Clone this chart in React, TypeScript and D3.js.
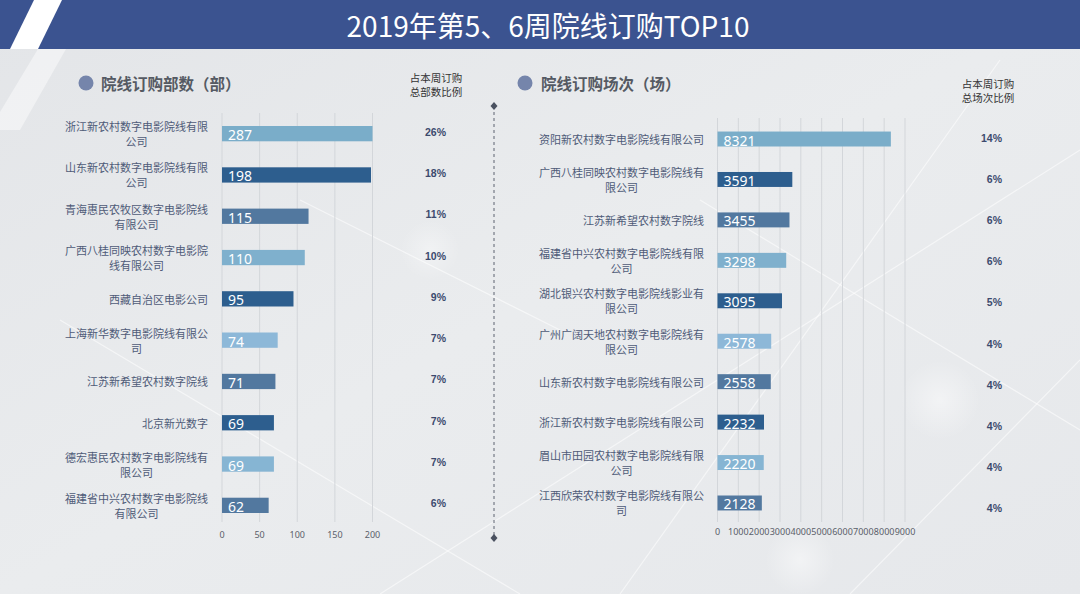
import React from "react";
import * as d3 from "d3";

const leftCategories = [
  "浙江新农村数字电影院线有限\n公司",
  "山东新农村数字电影院线有限\n公司",
  "青海惠民农牧区数字电影院线\n有限公司",
  "广西八桂同映农村数字电影院\n线有限公司",
  "西藏自治区电影公司",
  "上海新华数字电影院线有限公\n司",
  "江苏新希望农村数字院线",
  "北京新光数字",
  "德宏惠民农村数字电影院线有\n限公司",
  "福建省中兴农村数字电影院线\n有限公司",
];
const leftValues = [287, 198, 115, 110, 95, 74, 71, 69, 69, 62];
const leftShares = ["26%", "18%", "11%", "10%", "9%", "7%", "7%", "7%", "7%", "6%"];

const rightCategories = [
  "资阳新农村数字电影院线有限公司",
  "广西八桂同映农村数字电影院线有\n限公司",
  "江苏新希望农村数字院线",
  "福建省中兴农村数字电影院线有限\n公司",
  "湖北银兴农村数字电影院线影业有\n限公司",
  "广州广阔天地农村数字电影院线有\n限公司",
  "山东新农村数字电影院线有限公司",
  "浙江新农村数字电影院线有限公司",
  "眉山市田园农村数字电影院线有限\n公司",
  "江西欣荣农村数字电影院线有限公\n司",
];
const rightValues = [8321, 3591, 3455, 3298, 3095, 2578, 2558, 2232, 2220, 2128];
const rightShares = ["14%", "6%", "6%", "6%", "5%", "4%", "4%", "4%", "4%", "4%"];

const leftTicks = [0, 50, 100, 150, 200];
const rightTicks = [0, 1000, 2000, 3000, 4000, 5000, 6000, 7000, 8000, 9000];

const barColors = [
  "#7aadc9", "#2d5e8e", "#52789f", "#7fb0cd", "#2d5e8e",
  "#8db8d8", "#52789f", "#2d5e8e", "#86b5d3", "#52789f",
];

const W = 1080;
const H = 594;
const CJK = "'Noto Sans CJK SC', 'Noto Sans', sans-serif";
const NUM = "'Noto Sans', 'DejaVu Sans', sans-serif";

type PanelProps = {
  cats: string[];
  values: number[];
  shares: string[];
  xDomain: [number, number];
  xRange: [number, number];
  yRange: [number, number];
  pctRange: [number, number];
  labelRight: number;
  pctX: number;
  ticks: number[];
  tickY: number;
  gridTop: number;
  gridBottom: number;
};

function Panel(p: PanelProps) {
  const x = d3.scaleLinear().domain(p.xDomain).range(p.xRange).clamp(true);
  const y = d3
    .scaleBand<string>()
    .domain(p.cats)
    .range(p.yRange)
    .paddingInner(0.63)
    .paddingOuter(0.315);
  const py = d3.scalePoint<string>().domain(p.cats).range(p.pctRange);
  const fs = 11;
  return (
    <g>
      {p.ticks.map((t) => (
        <line
          key={"g" + t}
          x1={x(t)}
          x2={x(t)}
          y1={p.gridTop}
          y2={p.gridBottom}
          stroke="#d3d6da"
          strokeWidth={1}
        />
      ))}
      {p.ticks.map((t) => (
        <text
          key={"t" + t}
          x={x(t)}
          y={p.tickY}
          textAnchor="middle"
          fontFamily={NUM}
          fontSize={9}
          fill="#5a5f6a"
        >
          {t}
        </text>
      ))}
      {p.cats.map((c, i) => {
        const yy = y(c)!;
        const bw = y.bandwidth();
        const cy = yy + bw / 2;
        const lines = c.split("\n");
        const maxLen = d3.max(lines, (l) => l.length)!;
        const cx = p.labelRight - (maxLen * fs) / 2;
        const offs = lines.length === 1 ? [0] : [-7.5, 7.5];
        return (
          <g key={c + i}>
            <rect
              x={x(0)}
              y={yy}
              width={x(p.values[i]) - x(0)}
              height={bw}
              fill={barColors[i % barColors.length]}
            />
            <text
              x={x(0) + 6}
              y={cy + 1}
              dominantBaseline="central"
              fontFamily={NUM}
              fontSize={14}
              fill="#ffffff"
            >
              {p.values[i]}
            </text>
            {lines.map((l, j) => (
              <text
                key={j}
                x={cx}
                y={cy + offs[j]}
                textAnchor="middle"
                dominantBaseline="central"
                fontFamily={CJK}
                fontSize={fs}
                fill="#4f5b78"
              >
                {l}
              </text>
            ))}
            <text
              x={p.pctX}
              y={py(c)!}
              textAnchor="end"
              dominantBaseline="central"
              fontFamily="'Liberation Sans', Arial, sans-serif"
              fontWeight="bold"
              fontSize={10.5}
              fill="#3c4a6e"
            >
              {p.shares[i]}
            </text>
          </g>
        );
      })}
    </g>
  );
}

export default function App() {
  return (
    <svg
      width={W}
      height={H}
      viewBox={`0 0 ${W} ${H}`}
      style={{ position: "absolute", left: 0, top: 0, display: "block" }}
    >
      <defs>
        <linearGradient id="bg" x1="0" y1="0" x2="1" y2="1">
          <stop offset="0" stopColor="#e3e5e8" />
          <stop offset="0.5" stopColor="#eaecee" />
          <stop offset="1" stopColor="#e6e8eb" />
        </linearGradient>
        <radialGradient id="glow" cx="0.5" cy="0.5" r="0.5">
          <stop offset="0" stopColor="#ffffff" stopOpacity="0.9" />
          <stop offset="1" stopColor="#ffffff" stopOpacity="0" />
        </radialGradient>
      </defs>
      <rect x={0} y={0} width={W} height={H} fill="url(#bg)" />
      {/* faint decorative lines */}
      <g stroke="#ffffff" strokeOpacity={0.55} strokeWidth={1.2} fill="none">
        <line x1={60} y1={320} x2={520} y2={594} />
        <line x1={380} y1={594} x2={1080} y2={150} />
        <line x1={620} y1={594} x2={1000} y2={60} />
        <line x1={700} y1={200} x2={1080} y2={430} />
        <line x1={300} y1={200} x2={560} y2={330} />
        <line x1={850} y1={594} x2={1080} y2={360} />
      </g>
      <circle cx={940} cy={400} r={40} fill="url(#glow)" opacity={0.5} />
      <circle cx={800} cy={560} r={35} fill="url(#glow)" opacity={0.5} />
      <circle cx={430} cy={250} r={30} fill="url(#glow)" opacity={0.4} />
      <polygon points="38,49 66,49 20,130 0,130 0,112" fill="#ffffff" opacity={0.45} />

      {/* title band */}
      <rect x={0} y={0} width={W} height={49} fill="#3b5390" />
      <polygon points="34,0 62,0 38,49 10,49" fill="#ffffff" />
      <text
        x={548}
        y={37}
        textAnchor="middle"
        fontFamily={CJK}
        fontSize={28}
        fill="#ffffff"
      >
        2019年第5、6周院线订购TOP10
      </text>

      {/* section headers */}
      <circle cx={86} cy={83} r={7.5} fill="#7585ab" />
      <text x={101} y={83} dominantBaseline="central" fontFamily={CJK} fontWeight="bold" fontSize={15.5} fill="#555a63">
        院线订购部数（部）
      </text>
      <text x={436} y={82} textAnchor="middle" fontFamily={CJK} fontSize={10.5} fill="#333">
        占本周订购
      </text>
      <text x={436} y={96} textAnchor="middle" fontFamily={CJK} fontSize={10.5} fill="#333">
        总部数比例
      </text>

      <circle cx={525} cy={83} r={7.5} fill="#7585ab" />
      <text x={541} y={83} dominantBaseline="central" fontFamily={CJK} fontWeight="bold" fontSize={15.5} fill="#555a63">
        院线订购场次（场）
      </text>
      <text x={988} y={88} textAnchor="middle" fontFamily={CJK} fontSize={10.5} fill="#333">
        占本周订购
      </text>
      <text x={988} y={102} textAnchor="middle" fontFamily={CJK} fontSize={10.5} fill="#333">
        总场次比例
      </text>

      {/* divider */}
      <line x1={494} x2={494} y1={106} y2={538} stroke="#5c6370" strokeWidth={1} strokeDasharray="3,3" />
      <path d="M494,102 L497.5,106 L494,110 L490.5,106 Z" fill="#4a5160" />
      <path d="M494,534 L497.5,538 L494,542 L490.5,538 Z" fill="#4a5160" />

      <Panel
        cats={leftCategories}
        values={leftValues}
        shares={leftShares}
        xDomain={[0, 200]}
        xRange={[222, 372.5]}
        yRange={[113, 526]}
        pctRange={[132, 503]}
        labelRight={208}
        pctX={446}
        ticks={leftTicks}
        tickY={538}
        gridTop={113}
        gridBottom={522}
      />
      <Panel
        cats={rightCategories}
        values={rightValues}
        shares={rightShares}
        xDomain={[0, 9000]}
        xRange={[717.5, 905]}
        yRange={[118.8, 523.2]}
        pctRange={[138, 508]}
        labelRight={704}
        pctX={1002}
        ticks={rightTicks}
        tickY={535}
        gridTop={118}
        gridBottom={522}
      />
    </svg>
  );
}
